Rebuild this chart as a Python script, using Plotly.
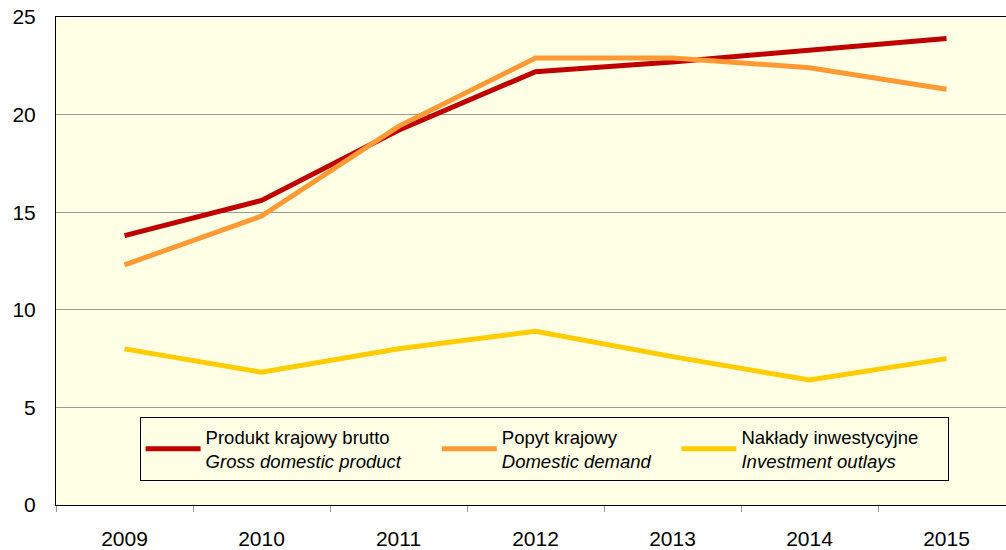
import plotly.graph_objects as go

years = ["2009", "2010", "2011", "2012", "2013", "2014", "2015"]
gdp = [13.8, 15.6, 19.2, 22.2, 22.7, 23.3, 23.9]
demand = [12.3, 14.8, 19.4, 22.9, 22.9, 22.4, 21.3]
invest = [8.0, 6.8, 8.0, 8.9, 7.6, 6.4, 7.5]

labels_pl = ["Produkt krajowy brutto", "Popyt krajowy", "Nakłady inwestycyjne"]
labels_en = ["Gross domestic product", "Domestic demand", "Investment outlays"]
pads = [6, 4, 9]  # trailing spacing (nbsp count) to mimic legend gaps
colors = ["#C00000", "#FF9933", "#FFCC00"]
series = [gdp, demand, invest]

xpos = list(range(len(years)))

fig = go.Figure()
for pl, en, pad, col, vals in zip(labels_pl, labels_en, pads, colors, series):
    nm = f"{pl}<br><i>{en}</i>" + "&nbsp;" * pad
    fig.add_trace(go.Scatter(x=xpos, y=vals, mode="lines", name=nm,
                             line=dict(color=col, width=5)))

bg = "#FFFFE5"
fig.update_layout(
    width=1006, height=550,
    margin=dict(l=56, r=0, t=17, b=45),
    paper_bgcolor="white", plot_bgcolor=bg,
    font=dict(family="Liberation Sans, Arial", size=21, color="black"),
    showlegend=True,
    legend=dict(orientation="h", x=0.088, xanchor="left", y=0.049, yanchor="bottom",
                bgcolor=bg, bordercolor="black", borderwidth=1,
                font=dict(size=18.5), itemwidth=55, entrywidth=0),
    xaxis=dict(range=[-0.5, 6.434], tickmode="array", tickvals=xpos, ticktext=years,
               ticks="", showgrid=False, showline=True, linecolor="black", linewidth=1,
               mirror=True, zeroline=False, ticklabelstandoff=15, automargin=False,
               minor=dict(tickmode="linear", tick0=0.5, dtick=1, ticks="outside",
                          ticklen=6, tickcolor="#999999", showgrid=False)),
    yaxis=dict(range=[0, 25], tickvals=[0, 5, 10, 15, 20, 25], showgrid=True,
               gridcolor="#999999", gridwidth=1, showline=True, linecolor="black",
               linewidth=1, zeroline=False, ticks="", ticklabelstandoff=15,
               automargin=False),
)

fig.write_html("out.html", config={"displayModeBar": False},
               post_script="document.body.style.margin='0';")
